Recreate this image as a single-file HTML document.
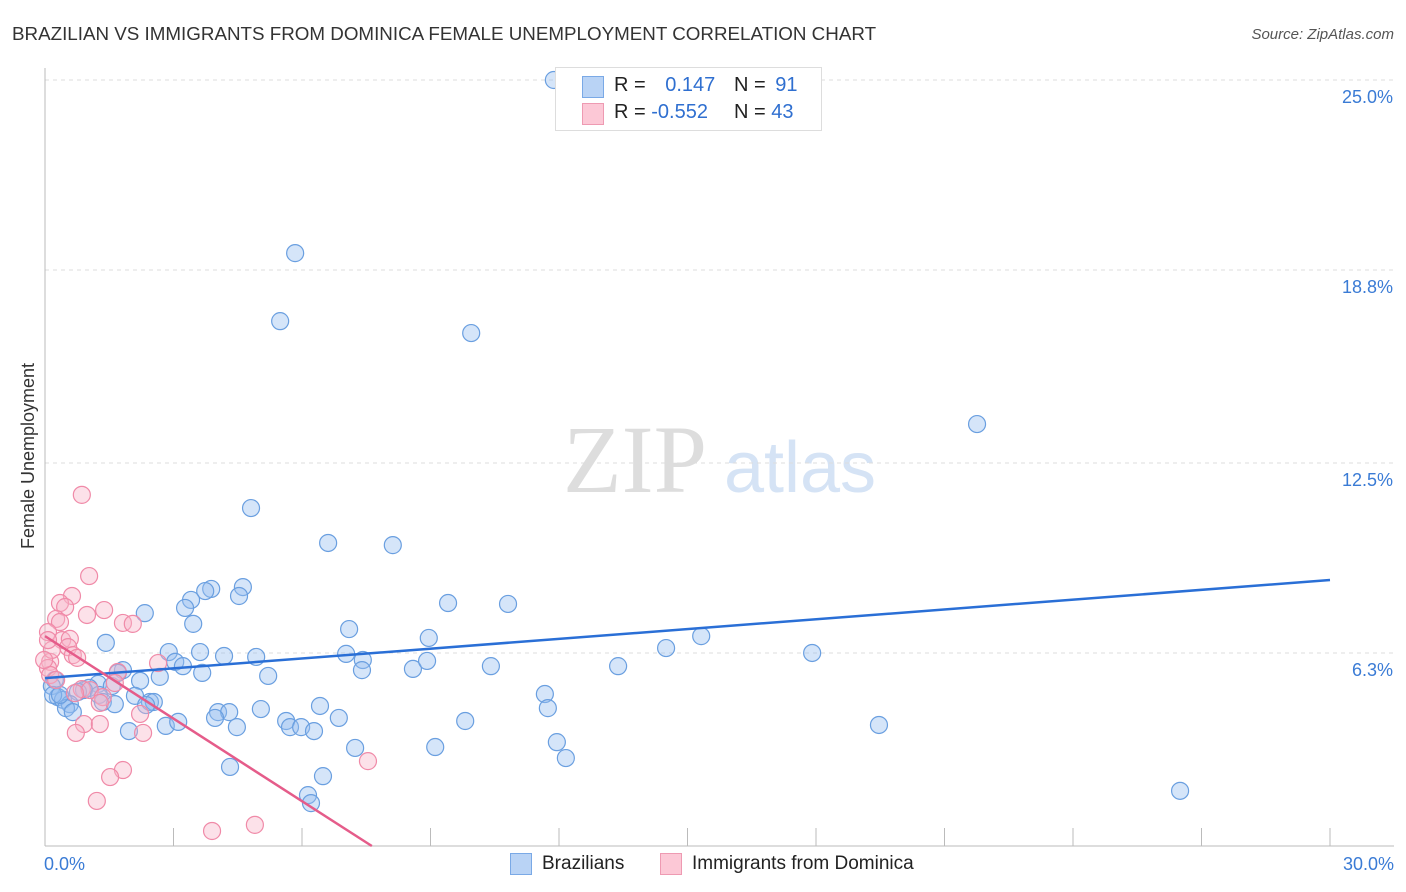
<!DOCTYPE html>
<html><head><meta charset="utf-8"><style>
body{margin:0;background:#fff;font-family:"Liberation Sans",sans-serif;}
#wrap{position:relative;width:1406px;height:892px;overflow:hidden}
</style></head><body>
<div id="wrap">
<svg id="svg" width="1406" height="892" xmlns="http://www.w3.org/2000/svg">
<text x="12" y="40" font-size="18.8" fill="#333">BRAZILIAN VS IMMIGRANTS FROM DOMINICA FEMALE UNEMPLOYMENT CORRELATION CHART</text>
<text x="1394" y="39" font-size="15" fill="#555" text-anchor="end" font-style="italic">Source: ZipAtlas.com</text>
<text x="34" y="456" font-size="18" fill="#333" text-anchor="middle" transform="rotate(-90 34 456)">Female Unemployment</text>
<text x="635" y="492" font-size="96" fill="#ddd" font-family="Liberation Serif,serif" text-anchor="middle">ZIP</text>
<text x="800" y="492" font-size="72" fill="#d5e3f5" text-anchor="middle">atlas</text>
<g id="grid"></g><g id="pts"></g><g id="lines"></g>
</svg>
<div style="position:absolute;left:555px;top:67px;width:265px;height:62px;border:1px solid #ddd;background:#fff;font-size:20px">
 <div style="position:absolute;left:26px;top:8px;width:20px;height:20px;background:#b9d3f5;border:1px solid #7aa9e6"></div>
 <div style="position:absolute;left:58px;top:6px;color:#222">R = <span style="color:#2f6fd0;margin-left:14px">0.147</span></div>
 <div style="position:absolute;left:178px;top:6px;color:#222">N = <span style="color:#2f6fd0;margin-left:4px">91</span></div>
 <div style="position:absolute;left:26px;top:35px;width:20px;height:20px;background:#fcc8d6;border:1px solid #ee9ab2"></div>
 <div style="position:absolute;left:58px;top:33px;color:#222">R = <span style="color:#2f6fd0">-0.552</span></div>
 <div style="position:absolute;left:178px;top:33px;color:#222">N = <span style="color:#2f6fd0">43</span></div>
</div>
<div style="position:absolute;left:510px;top:853px;width:20px;height:20px;background:#b9d3f5;border:1px solid #7aa9e6"></div>
<div style="position:absolute;left:542px;top:853px;font-size:19px;color:#222">Brazilians</div>
<div style="position:absolute;left:660px;top:853px;width:20px;height:20px;background:#fcc8d6;border:1px solid #ee9ab2"></div>
<div style="position:absolute;left:692px;top:853px;font-size:19px;color:#222">Immigrants from Dominica</div>
</div>
<script>
const yTicks=[25,18.8,12.5,6.3];
const yTickLabels=["25.0%","18.8%","12.5%","6.3%"];
const xLabels=["0.0%","30.0%"];
const bluePx=[[554,80],[295,253],[280,321],[471,333],[977,424],[251,508],[328,543],[393,545],[448,603],[508,604],[243,587],[211,589],[205,591],[191,600],[185,608],[145,613],[239,596],[193,624],[349,629],[429,638],[701,636],[666,648],[812,653],[106,643],[169,652],[200,652],[224,656],[256,657],[346,654],[363,660],[175,662],[183,666],[123,670],[118,673],[202,673],[362,670],[413,669],[427,661],[491,666],[618,666],[160,677],[268,676],[140,681],[98,684],[112,686],[89,688],[84,690],[78,692],[55,680],[52,686],[58,697],[63,700],[70,704],[66,708],[73,712],[99,695],[103,702],[135,696],[150,702],[154,702],[146,705],[115,704],[261,709],[320,706],[545,694],[548,708],[218,712],[229,712],[215,718],[286,721],[290,727],[301,727],[314,731],[339,718],[465,721],[879,725],[166,726],[178,722],[129,731],[237,727],[355,748],[435,747],[557,742],[566,758],[230,767],[323,776],[308,795],[311,803],[1180,791],[53,695],[60,695]];
const pinkPx=[[82,495],[89,576],[72,596],[60,603],[65,607],[104,610],[87,615],[56,619],[60,622],[123,623],[133,624],[48,632],[62,640],[70,639],[68,647],[73,655],[77,658],[50,662],[48,668],[50,675],[118,672],[158,663],[115,683],[82,689],[90,690],[103,697],[100,703],[140,714],[84,724],[76,733],[100,724],[143,733],[123,770],[110,777],[97,801],[212,831],[255,825],[368,761],[56,680],[75,693],[52,650],[44,660],[48,640]];
const blueX=bluePx.map(p=>+((p[0]-45)/1285*30).toFixed(2));
const blueY=bluePx.map(p=>+((846-p[1])/766*25).toFixed(2));
const pinkX=pinkPx.map(p=>+((p[0]-45)/1285*30).toFixed(2));
const pinkY=pinkPx.map(p=>+((846-p[1])/766*25).toFixed(2));
const blueTrend=[5.48,8.68];
const pinkTrend=[6.85,0];
const pinkTrendX=[0,7.63];
const NS="http://www.w3.org/2000/svg";
const X=v=>45+v/30*1285, Y=v=>846-v/25*766;
function mk(t,a,parent){const e=document.createElementNS(NS,t);for(const k in a)e.setAttribute(k,a[k]);document.getElementById(parent).appendChild(e);return e;}
yTicks.forEach((t,i)=>{
 let l=mk('line',{x1:45,x2:1394,y1:Y(t),y2:Y(t),stroke:'#ddd','stroke-dasharray':'4,4'},'grid');
 
 
 let tx=mk('text',{x:1393,y:Y(t)+23,'font-size':18,fill:'#3a7bd5','text-anchor':'end'},'grid');
 tx.textContent=yTickLabels[i];
 
 
});
let ax=mk('line',{x1:45,x2:45,y1:68,y2:846,stroke:'#bbb'},'grid');


let bx=mk('line',{x1:45,x2:1394,y1:846,y2:846,stroke:'#bbb'},'grid');


for(let i=0;i<=10;i++){let t=mk('line',{x1:X(i*3),x2:X(i*3),y1:828,y2:846,stroke:'#bbb'},'grid');
 
 }
[[0,44,'start'],[30,1394,'end']].forEach((d,i)=>{let t=mk('text',{x:d[1],y:870,'font-size':18,fill:'#3a7bd5','text-anchor':d[2]},'grid');t.textContent=xLabels[i];
 
 });
blueX.forEach((x,i)=>{let c=mk('circle',{cx:X(x),cy:Y(blueY[i]),r:8.5,fill:'rgba(150,190,240,0.4)',stroke:'#6a9fe0','stroke-width':1.2},'pts');
 
 });
pinkX.forEach((x,i)=>{let c=mk('circle',{cx:X(x),cy:Y(pinkY[i]),r:8.5,fill:'rgba(248,180,200,0.4)',stroke:'#f08aa8','stroke-width':1.2},'pts');
 
 });
let bl=mk('line',{x1:X(0),y1:Y(blueTrend[0]),x2:X(30),y2:Y(blueTrend[1]),stroke:'#2a6fd6','stroke-width':2.5},'lines');


let pl=mk('line',{x1:X(pinkTrendX[0]),y1:Y(pinkTrend[0]),x2:X(pinkTrendX[1]),y2:Y(pinkTrend[1]),stroke:'#e55c8a','stroke-width':2.5},'lines');


</script>
</body></html>
